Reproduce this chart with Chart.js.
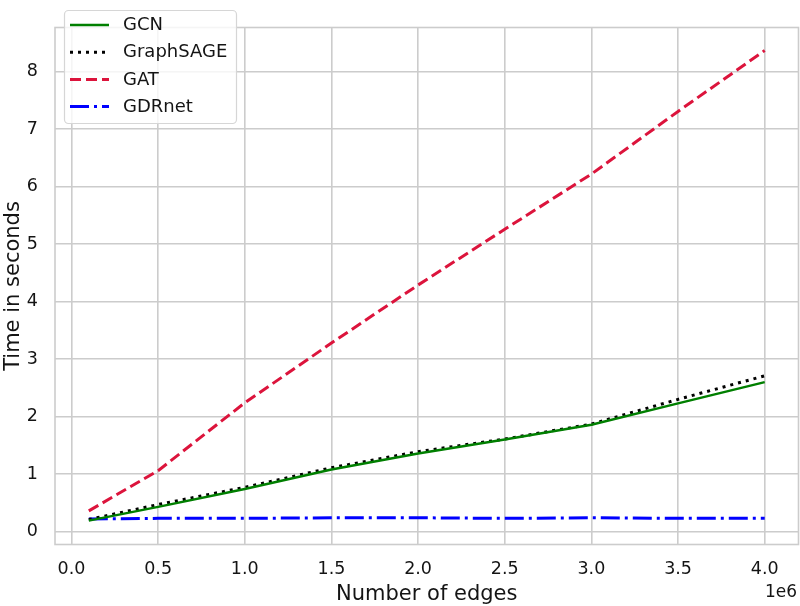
<!DOCTYPE html>
<html>
<head>
<meta charset="utf-8">
<script src="https://cdn.jsdelivr.net/npm/chart.js@4.4.1/dist/chart.umd.min.js"></script>
<style>
  html, body { margin: 0; padding: 0; background: #fff; }
  #wrap { width: 800px; height: 606px; }
</style>
</head>
<body>
<div id="wrap"><canvas id="chart" width="800" height="606"></canvas></div>
<script>
// number of edges (x), time in seconds (y)
const edges = [100000, 500000, 1000000, 1500000, 2000000, 2500000, 3000000, 3500000, 4000000];
const gcn = [0.19, 0.43, 0.74, 1.08, 1.36, 1.60, 1.86, 2.23, 2.60];
const graphsage = [0.21, 0.47, 0.77, 1.11, 1.39, 1.61, 1.87, 2.30, 2.71];
const gat = [0.36, 1.06, 2.24, 3.28, 4.29, 5.26, 6.22, 7.31, 8.37];
const gdrnet = [0.22, 0.23, 0.23, 0.24, 0.24, 0.23, 0.24, 0.23, 0.23];

const xTicks = [0, 500000, 1000000, 1500000, 2000000, 2500000, 3000000, 3500000, 4000000];
const yTicks = [0, 1, 2, 3, 4, 5, 6, 7, 8];

const textColor = '#141414';
const gridColor = '#cccccc';
const FONT = 'DejaVu Sans';

Chart.defaults.font.family = FONT;
Chart.defaults.color = textColor;

const toPoints = (ys) => edges.map((x, i) => ({ x, y: ys[i] }));

// frame around the plot area (all four sides)
const framePlugin = {
  id: 'frame',
  beforeDatasetsDraw(chart) {
    const { ctx, chartArea: a } = chart;
    ctx.save();
    ctx.strokeStyle = gridColor;
    ctx.lineWidth = 1.6;
    ctx.strokeRect(a.left, a.top, a.right - a.left, a.bottom - a.top);
    ctx.restore();
  }
};

// matplotlib-style legend box in the upper left + offset label
const boxLegend = {
  id: 'boxLegend',
  afterDraw(chart) {
    const ctx = chart.ctx;
    ctx.save();
    ctx.beginPath();
    ctx.roundRect(64.5, 10.5, 172, 113, 4);
    ctx.fillStyle = 'rgba(255,255,255,0.8)';
    ctx.fill();
    ctx.strokeStyle = '#d6d6d6';
    ctx.lineWidth = 1.2;
    ctx.stroke();

    chart.data.datasets.forEach((ds, i) => {
      const y = 25 + i * 27.2;
      ctx.beginPath();
      ctx.setLineDash(ds.borderDash || []);
      ctx.strokeStyle = ds.borderColor;
      ctx.lineWidth = ds.borderWidth;
      ctx.moveTo(70, y);
      ctx.lineTo(109, y);
      ctx.stroke();
      ctx.setLineDash([]);
      ctx.fillStyle = textColor;
      ctx.font = '18px "' + FONT + '"';
      ctx.textBaseline = 'middle';
      ctx.textAlign = 'left';
      ctx.fillText(ds.label, 123, y + 0.5);
    });

    ctx.font = '17px "' + FONT + '"';
    ctx.textAlign = 'right';
    ctx.textBaseline = 'alphabetic';
    ctx.fillText('1e6', 797, 597);
    ctx.restore();
  }
};

const ctx = document.getElementById('chart').getContext('2d');
new Chart(ctx, {
  type: 'line',
  data: {
    datasets: [
      {
        label: 'GCN',
        data: toPoints(gcn),
        borderColor: '#007f00',
        borderWidth: 2.5,
        pointRadius: 0,
        fill: false,
      },
      {
        label: 'GraphSAGE',
        data: toPoints(graphsage),
        borderColor: '#000000',
        borderWidth: 3,
        borderDash: [3, 5],
        pointRadius: 0,
        fill: false,
      },
      {
        label: 'GAT',
        data: toPoints(gat),
        borderColor: '#dc143c',
        borderWidth: 3,
        borderDash: [11, 5],
        pointRadius: 0,
        fill: false,
      },
      {
        label: 'GDRnet',
        data: toPoints(gdrnet),
        borderColor: '#0000ff',
        borderWidth: 3,
        borderDash: [19, 5, 3, 5],
        pointRadius: 0,
        fill: false,
      },
    ],
  },
  options: {
    responsive: false,
    animation: false,
    layout: { padding: { top: 2, right: 1.5, left: 0, bottom: 0 } },
    plugins: {
      legend: { display: false },
      tooltip: { enabled: false },
    },
    scales: {
      x: {
        type: 'linear',
        min: -95000,
        max: 4195000,
        afterBuildTicks: (scale) => { scale.ticks = xTicks.map((v) => ({ value: v })); },
        afterFit: (scale) => { scale.height = 61.5; },
        ticks: {
          callback: (v) => (v / 1e6).toFixed(1),
          font: { size: 17.5 },
          color: textColor,
          padding: 14,
          maxRotation: 0,
          autoSkip: false,
        },
        grid: { color: gridColor, lineWidth: 1.6, drawTicks: false },
        border: { display: false },
        title: {
          display: true,
          text: 'Number of edges',
          font: { size: 21, lineHeight: 1 },
          color: textColor,
          padding: { top: 0, bottom: 1 },
        },
      },
      y: {
        type: 'linear',
        min: -0.225,
        max: 8.77,
        afterBuildTicks: (scale) => { scale.ticks = yTicks.map((v) => ({ value: v })); },
        afterFit: (scale) => { scale.width = 55; },
        ticks: {
          callback: (v) => String(v),
          font: { size: 17.5 },
          color: textColor,
          padding: 17,
        },
        grid: { color: gridColor, lineWidth: 1.6, drawTicks: false },
        border: { display: false },
        title: {
          display: true,
          text: 'Time in seconds',
          font: { size: 21, lineHeight: 1 },
          color: textColor,
          padding: { top: 3, bottom: 0 },
        },
      },
    },
  },
  plugins: [framePlugin, boxLegend],
});
</script>
</body>
</html>
